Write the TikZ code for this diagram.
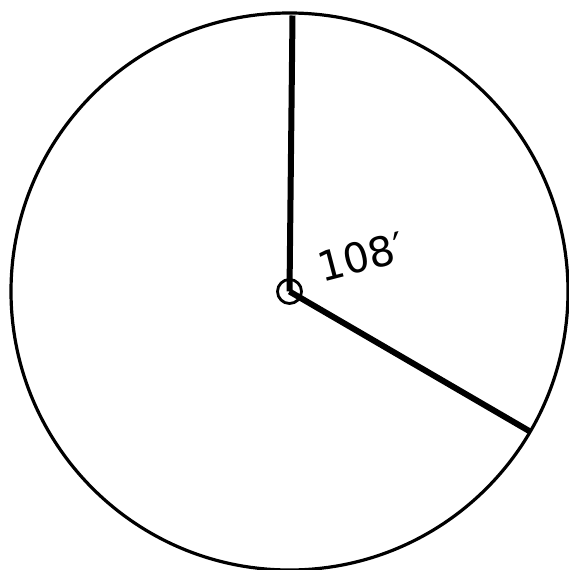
\documentclass[tikz,border=0pt]{standalone}
\usepackage{fontspec}
\setmainfont{DejaVu Sans}
\usetikzlibrary{calc}
\begin{document}
\begin{tikzpicture}[x=1pt,y=-1pt,
  rim/.style={line width=3.2pt},
  radius line/.style={line width=6pt},
  hub/.style={circle,draw,line width=2.8pt,minimum size=24pt,inner sep=0pt}]
\useasboundingbox (0,0) rectangle (569,570);
\coordinate (c) at (289.5,291.5);
\draw[rim] (c) circle (278.5);
\coordinate (top) at (292.5,15.5);
\coordinate (rt) at ($(c)+(30.2:278)$);
\draw[radius line] (c) -- (top);
\draw[radius line] (c) -- (rt);
\node[hub] (h) at (c) {};
\node[rotate=14.6,font=\fontsize{41}{41}\selectfont] (lbl) at (361,257) {108′};
\end{tikzpicture}
\end{document}
